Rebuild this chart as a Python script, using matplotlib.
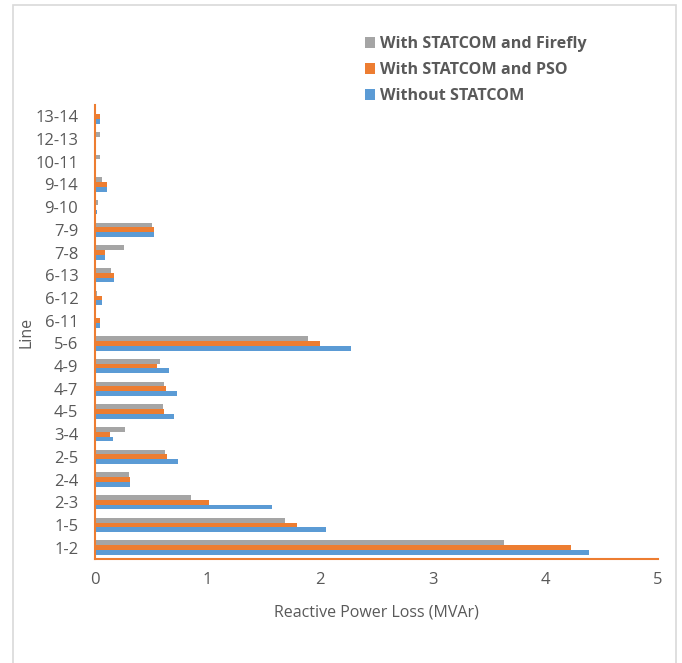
import numpy as np
import matplotlib
matplotlib.use("Agg")
import matplotlib.pyplot as plt
from matplotlib.patches import Rectangle

plt.rcParams["font.family"] = ["Open Sans", "DejaVu Sans"]

lines = ["1-2", "1-5", "2-3", "2-4", "2-5", "3-4", "4-5", "4-7", "4-9", "5-6",
         "6-11", "6-12", "6-13", "7-8", "7-9", "9-10", "9-14", "10-11", "12-13", "13-14"]
without_statcom = [4.39, 2.05, 1.57, 0.31, 0.74, 0.16, 0.70, 0.73, 0.66, 2.27,
                   0.04, 0.06, 0.17, 0.09, 0.52, 0.015, 0.11, 0.005, 0.005, 0.04]
statcom_pso = [4.23, 1.79, 1.01, 0.31, 0.64, 0.13, 0.61, 0.63, 0.55, 2.00,
               0.04, 0.06, 0.17, 0.085, 0.52, 0.01, 0.11, 0.005, 0.005, 0.04]
statcom_firefly = [3.63, 1.69, 0.85, 0.30, 0.62, 0.27, 0.60, 0.61, 0.58, 1.89,
                   0.0, 0.015, 0.14, 0.26, 0.51, 0.03, 0.06, 0.04, 0.045, 0.0]

BLUE, ORANGE, GRAY = "#5B9BD5", "#ED7D31", "#A5A5A5"
TXT = "#595959"

fig = plt.figure(figsize=(6.82, 6.63), dpi=100)
# light frame around the chart area (Excel style)
fig.patches.append(Rectangle((13 / 682, -0.01), 663 / 682, 1 - 5 / 663 + 0.01,
                             transform=fig.transFigure, fill=False,
                             edgecolor="#D9D9D9", linewidth=1.2))

ax = fig.add_axes([95 / 682, 1 - 559 / 663, 563 / 682, 454 / 663])

y = np.arange(len(lines))
h = 0.21
ax.barh(y - h, without_statcom, height=h, color=BLUE, label="Without STATCOM")
ax.barh(y, statcom_pso, height=h, color=ORANGE, label="With STATCOM and PSO")
ax.barh(y + h, statcom_firefly, height=h, color=GRAY, label="With STATCOM and Firefly")

ax.set_xlim(0, 5)
ax.set_ylim(-0.5, len(lines) - 0.5)
ax.set_yticks(y)
ax.set_yticklabels(lines)
ax.set_xticks(range(6))
ax.tick_params(length=0, labelsize=12, colors=TXT)
ax.tick_params(axis="y", pad=12)
ax.tick_params(axis="x", pad=9)

for s in ["top", "right"]:
    ax.spines[s].set_visible(False)
for s in ["left", "bottom"]:
    ax.spines[s].set_color(ORANGE)
    ax.spines[s].set_linewidth(1.5)

ax.set_xlabel("Reactive Power Loss (MVAr)", color=TXT, fontsize=11.5, labelpad=12)
ax.set_ylabel("Line", color=TXT, fontsize=11.5, labelpad=0)
ax.yaxis.set_label_coords(-0.108, 0.5)

handles, labels = ax.get_legend_handles_labels()
leg = fig.legend(handles[::-1], labels[::-1], loc="upper left",
                 bbox_to_anchor=(350 / 682, 1 - 22 / 663), frameon=False,
                 prop={"weight": "bold", "size": 11.6}, handlelength=0.65,
                 handleheight=0.65, handletextpad=0.3, labelspacing=0.6)
for t in leg.get_texts():
    t.set_color(TXT)

fig.savefig("out.png", dpi=100)
